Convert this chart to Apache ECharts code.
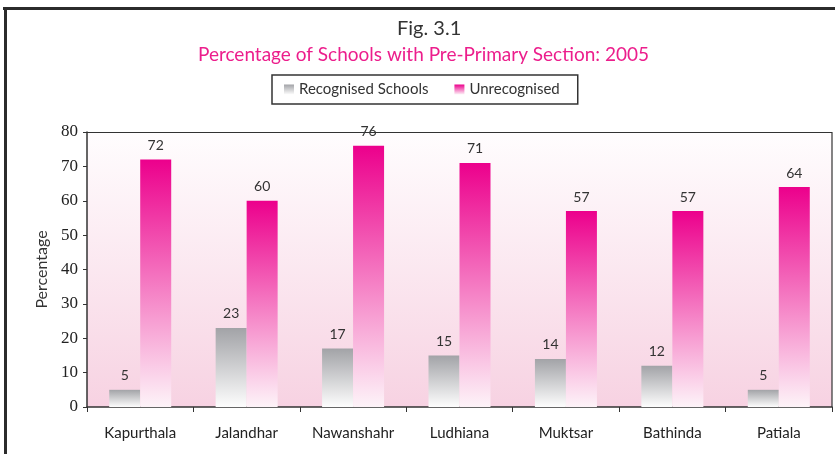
<!DOCTYPE html>
<html style="height:100%;">
<head>
    <meta charset="utf-8">
    <script src="https://cdn.jsdelivr.net/npm/echarts@6/dist/echarts.min.js"></script>
</head>
<body style="height:100%;margin:0;background:#fff;">
    <div id="main" style="width:835px;height:454px;"></div>
<script>
    // districts and values
    var districts = ['Kapurthala', 'Jalandhar', 'Nawanshahr', 'Ludhiana', 'Muktsar', 'Bathinda', 'Patiala'];
    var recognised = [5, 23, 17, 15, 14, 12, 5];
    var unrecognised = [72, 60, 76, 71, 57, 57, 64];
    var yTicks = [0, 10, 20, 30, 40, 50, 60, 70, 80];

    var sans = 'Lato, "Noto Sans", sans-serif';

    function grad(top, bottom) {
        return new echarts.graphic.LinearGradient(0, 0, 0, 1, [
            {offset: 0, color: top},
            {offset: 1, color: bottom}
        ]);
    }

    var chart = echarts.init(document.getElementById('main'));
    var option = {
        backgroundColor: '#FFFFFF',
        title: [{
            text: 'Fig. 3.1',
            left: 392,
            top: 14,
            textStyle: {fontFamily: sans, fontWeight: 'normal', fontSize: 20, color: '#333'}
        }, {
            text: 'Percentage of Schools with Pre-Primary Section: 2005',
            left: 193,
            top: 40,
            textStyle: {fontFamily: sans, fontWeight: 'normal', fontSize: 19, color: '#ec1e8c'}
        }],
        legend: {
            left: 272,
            top: 75,
            padding: [7, 18, 7, 12],
            itemGap: 26,
            itemWidth: 10,
            itemHeight: 10,
            icon: 'rect',
            borderColor: '#333',
            borderWidth: 1.5,
            textStyle: {fontFamily: sans, fontSize: 15, color: '#333'},
            data: ['Recognised Schools', 'Unrecognised']
        },
        graphic: [
            // outer frame: top and left edges
            {type: 'line', shape: {x1: 3, y1: 8.5, x2: 835, y2: 8.5}, style: {stroke: '#2b2b2b', lineWidth: 3}},
            {type: 'line', shape: {x1: 5.5, y1: 7, x2: 5.5, y2: 454}, style: {stroke: '#2b2b2b', lineWidth: 3}},
            // plot border top and right
            {type: 'line', shape: {x1: 87, y1: 132.5, x2: 832, y2: 132.5}, style: {stroke: '#333', lineWidth: 1.2}, z: 10},
            {type: 'line', shape: {x1: 832, y1: 132, x2: 832, y2: 407}, style: {stroke: '#333', lineWidth: 1.2}, z: 10}
        ],
        grid: {
            left: 87,
            right: 3,
            top: 132,
            bottom: 47,
            show: true,
            borderWidth: 0,
            backgroundColor: grad('#fffdfe', '#f7d2e2')
        },
        xAxis: {
            type: 'category',
            data: districts,
            axisLine: {lineStyle: {color: '#333', width: 1.5}},
            axisTick: {show: true, length: 5, lineStyle: {color: '#333'}},
            axisLabel: {interval: 0, fontFamily: sans, fontSize: 15, color: '#222', margin: 19}
        },
        yAxis: {
            type: 'value',
            min: yTicks[0],
            max: yTicks[yTicks.length - 1],
            interval: 10,
            name: 'Percentage',
            nameLocation: 'middle',
            nameGap: 31,
            nameTextStyle: {fontFamily: sans, fontSize: 16, color: '#333'},
            splitLine: {show: false},
            axisLine: {show: true, lineStyle: {color: '#333', width: 1.5}},
            axisTick: {show: true, length: 4, lineStyle: {color: '#333'}},
            axisLabel: {fontFamily: '"Times New Roman", "Liberation Serif", "DejaVu Serif", serif', fontSize: 17, color: '#222', margin: 9}
        },
        series: [{
            name: 'Recognised Schools',
            type: 'bar',
            data: recognised,
            barWidth: 31,
            barGap: '0%',
            itemStyle: {color: grad('#a2a3a7', '#fdfdfd')},
            label: {show: true, position: 'top', distance: 7, fontFamily: sans, fontSize: 14, color: '#333'}
        }, {
            name: 'Unrecognised',
            type: 'bar',
            data: unrecognised,
            barWidth: 31,
            itemStyle: {color: grad('#ec008c', '#fdf3f8')},
            label: {show: true, position: 'top', distance: 7, fontFamily: sans, fontSize: 14, color: '#333'}
        }]
    };
    chart.setOption(option);
</script>
</body>
</html>
